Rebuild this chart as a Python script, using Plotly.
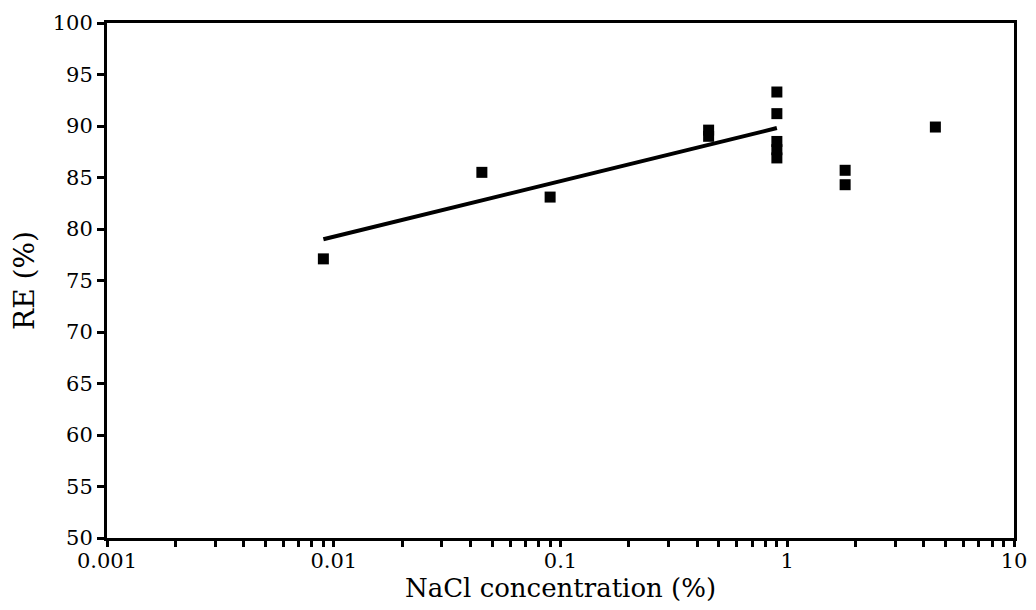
import plotly.graph_objects as go

# Data
nacl = [0.009, 0.045, 0.09, 0.45, 0.45, 0.9, 0.9, 0.9, 0.9, 0.9, 1.8, 1.8, 4.5]
re = [77.1, 85.5, 83.1, 89.6, 89.0, 93.3, 91.2, 88.5, 87.7, 86.9, 85.7, 84.3, 89.9]

fit_x = [0.009, 0.9]
fit_y = [79.0, 89.8]

x_tickvals = [0.001, 0.01, 0.1, 1, 10]
x_ticktext = ["0.001", "0.01", "0.1", "1", "10"]
y_tickvals = [50, 55, 60, 65, 70, 75, 80, 85, 90, 95, 100]

font_family = "DejaVu Serif"

fig = go.Figure()
fig.add_trace(go.Scatter(
    x=fit_x, y=fit_y, mode="lines",
    line=dict(color="black", width=4), showlegend=False, hoverinfo="skip"))
fig.add_trace(go.Scatter(
    x=nacl, y=re, mode="markers",
    marker=dict(symbol="square", size=11, color="black"), showlegend=False))

fig.update_layout(
    width=1036, height=610,
    margin=dict(l=99, r=30, t=15, b=80),
    plot_bgcolor="white", paper_bgcolor="white",
    font=dict(family=font_family, color="black", size=21),
)
fig.update_xaxes(
    type="log", range=[-3, 1], automargin=False,
    tickvals=x_tickvals, ticktext=x_ticktext,
    ticks="outside", ticklen=6, tickwidth=2.5, tickcolor="black",
    ticklabelstandoff=-4,
    showline=True, linecolor="black", linewidth=3, mirror=True,
    showgrid=False, zeroline=False,
    tickfont=dict(family=font_family, size=21, color="black"),
    minor=dict(ticks="outside", ticklen=6, tickwidth=2.5, tickcolor="black",
               dtick="D1", showgrid=False),
    title=dict(text="NaCl concentration (%)", standoff=0,
               font=dict(family=font_family, size=26, color="black")),
)
fig.update_yaxes(
    range=[50, 100], automargin=False, tickvals=y_tickvals,
    ticks="outside", ticklen=7, tickwidth=2.5, tickcolor="black",
    showline=True, linecolor="black", linewidth=3, mirror=True,
    showgrid=False, zeroline=False,
    tickfont=dict(family=font_family, size=21, color="black"),
    title=dict(text="RE (%)", standoff=10,
               font=dict(family=font_family, size=28, color="black")),
)

fig.write_html("out.html")
